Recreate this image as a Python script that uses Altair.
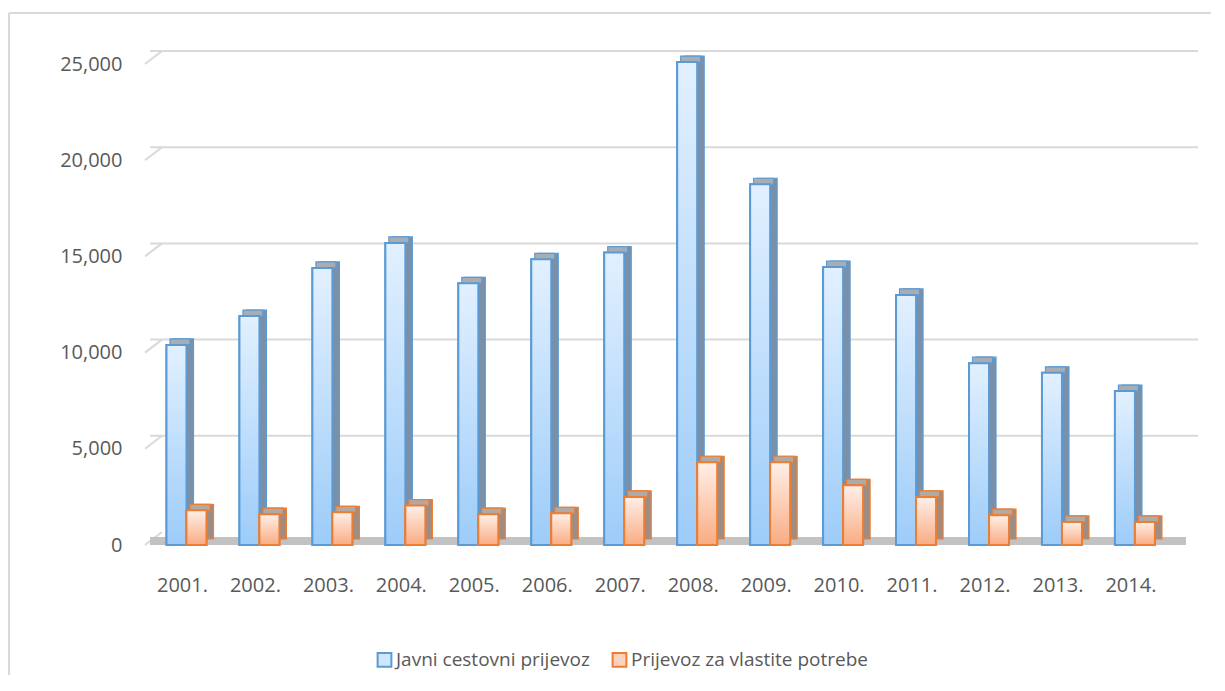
import altair as alt
import pandas as pd

# ---- data ----
years = ["2001.", "2002.", "2003.", "2004.", "2005.", "2006.", "2007.",
         "2008.", "2009.", "2010.", "2011.", "2012.", "2013.", "2014."]
javni = [10400, 11900, 14400, 15700, 13600, 14850, 15200,
         25100, 18750, 14450, 13000, 9450, 8950, 8000]
vlastite = [1800, 1600, 1700, 2050, 1600, 1650, 2500,
            4300, 4300, 3100, 2500, 1550, 1200, 1200]
series_names = ["Javni cestovni prijevoz", "Prijevoz za vlastite potrebe"]
y_ticks = [0, 5000, 10000, 15000, 20000, 25000]
grid_ticks = [5000, 10000, 15000, 20000, 25000]

rows = []
for i, yr in enumerate(years):
    rows.append({"year": yr, "series": series_names[0], "value": javni[i]})
    rows.append({"year": yr, "series": series_names[1], "value": vlastite[i]})
df = pd.DataFrame(rows)
grid_df = pd.DataFrame({"value": grid_ticks})
slant_df = pd.DataFrame({"value": y_ticks})
floor_df = pd.DataFrame({"value": [0]})

W, H = 1036, 481
TEXT = "#595959"
FONT = "Open Sans"

x_enc = alt.X(
    "year:N", sort=years,
    scale=alt.Scale(domain=years, paddingInner=0, paddingOuter=0.1, align=0),
    axis=alt.Axis(title=None, labelAngle=0, domain=False, ticks=False,
                  labelPadding=30, labelOffset=-4, labelFontSize=20,
                  labelColor=TEXT, labelFont=FONT),
)
y_scale = alt.Scale(domain=[0, 25000], nice=False)
y_axis = alt.Axis(title=None, values=y_ticks, grid=False,
                  labelExpr="format(datum.value, ',')",
                  domain=False, ticks=False, labelPadding=28,
                  labelFontSize=20, labelColor=TEXT, labelFont=FONT)
y_enc = alt.Y("value:Q", scale=y_scale, axis=y_axis)
y2_enc = alt.Y2("value:Q")

legend = alt.Legend(title=None, orient="none", legendX=225, legendY=586,
                    direction="horizontal", symbolType="square",
                    symbolSize=190, symbolStrokeWidth=2, labelFontSize=19,
                    labelColor=TEXT, labelFont=FONT, columnPadding=18,
                    labelOffset=2, labelLimit=0)

styles = {
    series_names[0]: dict(dx=-10, stroke="#5b9bd5", light="#cfe6fd",
                          side="#7a90a8", topface="#a9adb2",
                          top="#e2f0ff", bottom="#9dccf9"),
    series_names[1]: dict(dx=10, stroke="#ed7d31", light="#fcd2bd",
                          side="#9e8d85", topface="#b0aaa7",
                          top="#ffefe8", bottom="#f9ac82"),
}

PAD_R = 25
frame_df = pd.DataFrame({"k": [0]})
frame_left = alt.Chart(frame_df).mark_rule(color="#d9d9d9", strokeWidth=2).encode(
    x=alt.value(-141), y=alt.value(-51), y2=alt.value(700))
frame_top = alt.Chart(frame_df).mark_rule(color="#d9d9d9", strokeWidth=2).encode(
    x=alt.value(-141), x2=alt.value(W + 60), y=alt.value(-51), y2=alt.value(-51))

grid = alt.Chart(grid_df).mark_rule(
    color="#d9d9d9", strokeWidth=2, yOffset=-13, xOffset=12
).encode(y=y_enc)

slants = alt.Chart(slant_df).mark_rule(
    color="#d9d9d9", strokeWidth=2, y2Offset=-13
).encode(y=y_enc, y2=y2_enc, x=alt.value(-5), x2=alt.value(12))

floor = alt.Chart(floor_df).mark_rule(
    color="#c2c2c2", strokeWidth=8, yOffset=-4
).encode(y=y_enc)

layers = [frame_left, frame_top, grid, slants, floor]
for s in series_names:
    st = styles[s]
    sub = alt.Chart(df).transform_filter(alt.datum.series == s)
    leg = sub.mark_bar(width=20, xOffset=st["dx"], strokeWidth=2).encode(
        x=x_enc, y=y_enc,
        fill=alt.Fill("series:N", scale=alt.Scale(
            domain=series_names,
            range=[styles[n]["light"] for n in series_names]), legend=legend),
        stroke=alt.Stroke("series:N", scale=alt.Scale(
            domain=series_names,
            range=[styles[n]["stroke"] for n in series_names]), legend=legend),
    )
    side = sub.mark_bar(
        width=20, xOffset=st["dx"] + 7, yOffset=-6, y2Offset=-6,
        fill=st["side"], stroke=st["stroke"], strokeWidth=1.2
    ).encode(x=x_enc, y=y_enc)
    topface = sub.mark_bar(
        width=20, xOffset=st["dx"] + 3.5, yOffset=-6, y2Offset=0,
        fill=st["topface"], stroke=st["stroke"], strokeWidth=1.2
    ).encode(x=x_enc, y=y_enc, y2=y2_enc)
    bar = sub.mark_bar(
        width=20, xOffset=st["dx"], stroke=st["stroke"], strokeWidth=2,
        fill={"gradient": "linear", "x1": 0, "y1": 0, "x2": 0, "y2": 1,
              "stops": [{"offset": 0, "color": st["top"]},
                        {"offset": 1, "color": st["bottom"]}]},
    ).encode(x=x_enc, y=y_enc)
    layers += [leg, side, topface, bar]

chart = alt.layer(*layers).properties(
    width=W, height=H,
    padding={"left": 142, "top": 56, "right": PAD_R, "bottom": 130},
    autosize=alt.AutoSizeParams(type="none"),
).configure(font=FONT).configure_view(strokeWidth=0)

chart.save("out.html", embed_options={"renderer": "svg", "actions": False})
